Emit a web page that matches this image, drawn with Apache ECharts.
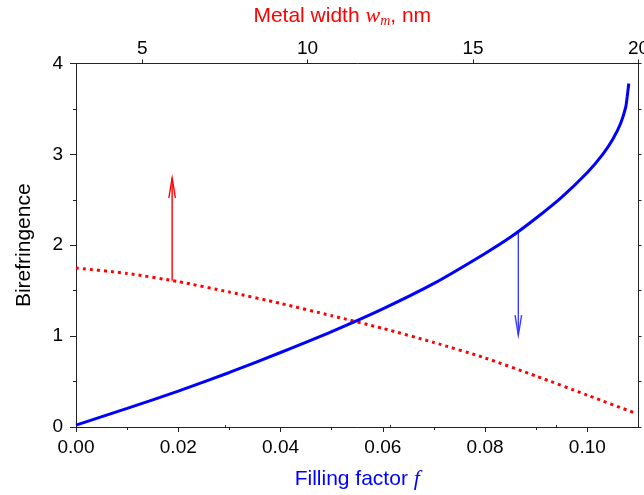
<!DOCTYPE html>
<html>
<head>
<meta charset="utf-8">
<script src="https://cdn.jsdelivr.net/npm/echarts@6/dist/echarts.min.js"></script>
<style>
  html, body { margin: 0; padding: 0; background: #fff; }
  #chart { width: 644px; height: 495px; }
</style>
</head>
<body>
<div id="chart"></div>
<script>
// blue solid curve: birefringence vs filling factor
const fillBlue = [0, 0.01, 0.02, 0.03, 0.04, 0.05, 0.06, 0.07, 0.08, 0.085, 0.09, 0.095, 0.10, 0.103, 0.105, 0.1065, 0.1075, 0.1078, 0.1081];
const biBlue   = [0.02, 0.205, 0.395, 0.60, 0.82, 1.05, 1.30, 1.58, 1.91, 2.09, 2.30, 2.53, 2.80, 3.00, 3.17, 3.34, 3.52, 3.64, 3.78];

// red dotted curve
const fillRed = [0, 0.01, 0.02, 0.03, 0.04, 0.05, 0.06, 0.07, 0.08, 0.09, 0.10, 0.1095];
const biRed   = [1.75, 1.69, 1.60, 1.485, 1.36, 1.225, 1.085, 0.93, 0.76, 0.56, 0.35, 0.15];

// arrows: [x, from, to]
const redArrow  = [0.0188, 1.61, 2.74];
const blueArrow = [0.0865, 2.15, 1.01];

// tick values
const bottomLabels = [0, 0.02, 0.04, 0.06, 0.08, 0.10];
const bottomMinor  = [0.01, 0.03, 0.05, 0.07, 0.09];
const topLabels = [5, 10, 15, 20];
const topMinor  = [7.5, 12.5, 17.5];

const chart = echarts.init(document.getElementById('chart'));

const FONT = 'Liberation Sans';
const axisColor = '#222';

function arrowItem(params, api) {
  const p1 = api.coord([api.value(0), api.value(1)]);
  const p2 = api.coord([api.value(0), api.value(2)]);
  const dir = p2[1] < p1[1] ? 1 : -1; // head points up when dir = 1
  const len = 20, half = 3.3;
  const color = api.visual('color');
  return {
    type: 'group',
    children: [
      { type: 'line', shape: { x1: p1[0], y1: p1[1], x2: p2[0], y2: p2[1] },
        style: { stroke: color, lineWidth: 1.4 } },
      { type: 'polyline',
        shape: { points: [[p2[0] - half, p2[1] + dir * len], [p2[0], p2[1]], [p2[0] + half, p2[1] + dir * len]] },
        style: { stroke: color, lineWidth: 1.4, fill: null } }
    ]
  };
}

const option = {
  animation: false,
  grid: { left: 76, right: 5.5, top: 63.5, bottom: 68, outerBoundsMode: 'none' },
  textStyle: { fontFamily: FONT },
  xAxis: [
    {
      type: 'value', position: 'bottom', min: 0, max: 0.11,
      name: '{a|Filling factor }{i|f}',
      nameLocation: 'middle', nameGap: 41,
      nameTextStyle: {
        rich: {
          a: { fontFamily: FONT, fontSize: 21, color: '#0000ff' },
          i: { fontFamily: 'Liberation Serif', fontStyle: 'italic', fontSize: 22, color: '#0000ff' }
        }
      },
      axisLine: { show: true, onZero: false, lineStyle: { color: axisColor } },
      axisTick: { show: true, length: 5, customValues: bottomLabels, lineStyle: { color: axisColor } },
      axisLabel: { customValues: bottomLabels, fontSize: 19, color: '#000', margin: 11,
        formatter: v => v.toFixed(2) },
      splitLine: { show: false }
    },
    {
      type: 'value', position: 'bottom', min: 0, max: 0.11,
      axisLine: { show: false },
      axisTick: { show: true, length: 3, customValues: bottomMinor, lineStyle: { color: axisColor } },
      axisLabel: { show: false },
      splitLine: { show: false }
    },
    {
      type: 'value', position: 'top', min: 3, max: 20,
      name: '{a|Metal width }{i|w}{s|m}{a|, nm}',
      nameLocation: 'middle', nameGap: 35,
      nameTextStyle: {
        padding: [0, 30, 0, 0],
        rich: {
          a: { fontFamily: FONT, fontSize: 21, color: '#ff0000', lineHeight: 24 },
          i: { fontFamily: 'Liberation Serif', fontStyle: 'italic', fontSize: 22, color: '#ff0000', lineHeight: 24 },
          s: { fontFamily: 'Liberation Serif', fontStyle: 'italic', fontSize: 14, color: '#ff0000',
               lineHeight: 15, verticalAlign: 'bottom', padding: [11, 0, 0, 0] }
        }
      },
      axisLine: { show: true, onZero: false, lineStyle: { color: axisColor } },
      axisTick: { show: true, length: 4, customValues: topLabels, lineStyle: { color: axisColor } },
      axisLabel: { customValues: topLabels, fontSize: 19, color: '#000', margin: 5 },
      splitLine: { show: false }
    },
    {
      type: 'value', position: 'top', min: 3, max: 20,
      axisLine: { show: false },
      axisTick: { show: true, length: 2, customValues: topMinor, lineStyle: { color: axisColor } },
      axisLabel: { show: false },
      splitLine: { show: false }
    }
  ],
  yAxis: [
    {
      type: 'value', position: 'left', min: 0, max: 4, interval: 1,
      name: 'Birefringence', nameLocation: 'middle', nameGap: 41, nameRotate: 90,
      nameTextStyle: { fontFamily: FONT, fontSize: 21, color: '#000' },
      axisLine: { show: true, onZero: false, lineStyle: { color: axisColor } },
      axisTick: { show: true, length: 6, lineStyle: { color: axisColor } },
      minorTick: { show: true, splitNumber: 2, length: 3, lineStyle: { color: axisColor } },
      axisLabel: { fontSize: 19, color: '#000', margin: 13 },
      splitLine: { show: false }
    },
    {
      type: 'value', position: 'right', min: 0, max: 4, interval: 0.5,
      axisLine: { show: true, onZero: false, lineStyle: { color: axisColor } },
      axisTick: { show: true, length: 3, lineStyle: { color: axisColor } },
      axisLabel: { show: false },
      splitLine: { show: false }
    }
  ],
  series: [
    {
      type: 'line', xAxisIndex: 0, yAxisIndex: 0,
      data: fillRed.map((f, i) => [f, biRed[i]]),
      smooth: 0.2, showSymbol: false,
      lineStyle: { color: '#ff0000', width: 3, type: [3, 4], cap: 'butt' }
    },
    {
      type: 'line', xAxisIndex: 0, yAxisIndex: 0,
      data: fillBlue.map((f, i) => [f, biBlue[i]]),
      smooth: 0.2, showSymbol: false,
      lineStyle: { color: '#0000ff', width: 3 }
    },
    {
      type: 'custom', xAxisIndex: 0, yAxisIndex: 0,
      renderItem: arrowItem, clip: false,
      itemStyle: { color: '#ff0000' },
      data: [redArrow]
    },
    {
      type: 'custom', xAxisIndex: 0, yAxisIndex: 0,
      renderItem: arrowItem, clip: false,
      itemStyle: { color: '#3b3bff' },
      data: [blueArrow]
    }
  ]
};

chart.setOption(option);
</script>
</body>
</html>
